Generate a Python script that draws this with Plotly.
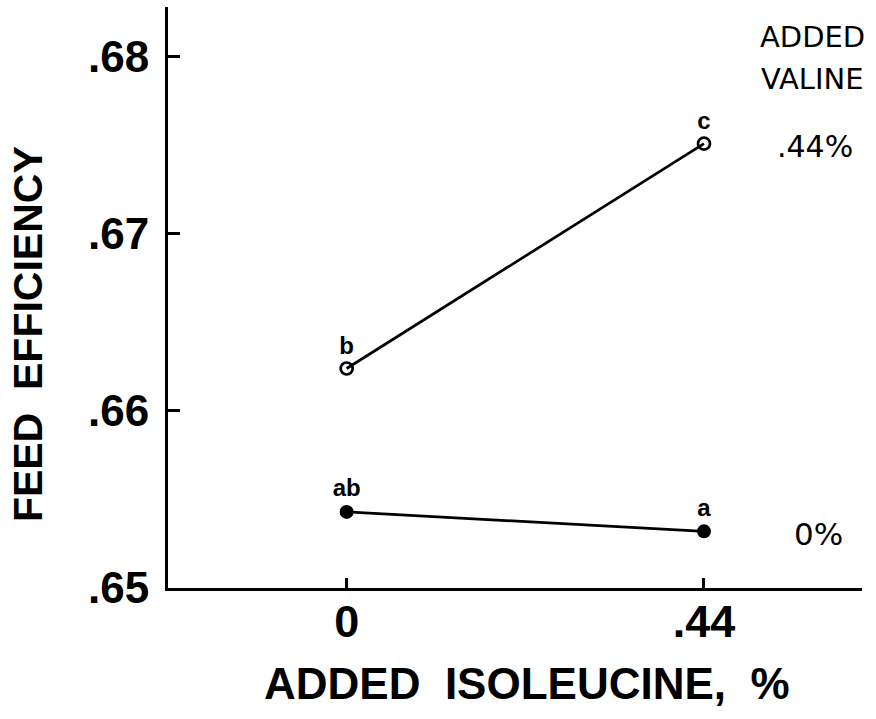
import plotly.graph_objects as go

# Added isoleucine levels (%)
isoleucine = [0.0, 0.44]
isoleucine_ticktext = ["0", ".44"]

# Feed efficiency by added valine level
fe_valine_044 = [0.6624, 0.6751]
fe_valine_0 = [0.6543, 0.6532]

# Significance letters above each mean
letters_valine_044 = ["b", "c"]
letters_valine_0 = ["ab", "a"]

y_ticks = [0.65, 0.66, 0.67, 0.68]
y_ticktext = [".65", ".66", ".67", ".68"]

BOLD = "Liberation Sans"
LABEL = "DejaVu Sans"
INK = "black"

fig = go.Figure()

fig.add_trace(go.Scatter(
    x=isoleucine, y=fe_valine_044, mode="lines+markers+text",
    line=dict(color=INK, width=2.7),
    marker=dict(symbol="circle-open", size=12, color=INK, line=dict(width=2.7)),
    text=letters_valine_044, textposition="top center",
    textfont=dict(family=BOLD, size=24, color=INK, weight="bold"),
    showlegend=False, cliponaxis=False,
))

fig.add_trace(go.Scatter(
    x=isoleucine, y=fe_valine_0, mode="lines+markers+text",
    line=dict(color=INK, width=2.7),
    marker=dict(symbol="circle", size=14, color=INK),
    text=letters_valine_0, textposition="top center",
    textfont=dict(family=BOLD, size=24, color=INK, weight="bold"),
    showlegend=False, cliponaxis=False,
))

# Valine level key at the right
key_font = dict(family=LABEL, size=29, color=INK)
fig.add_annotation(x=0.928, y=0.948, xref="paper", yref="paper", text="ADDED",
                   showarrow=False, xanchor="center", yanchor="middle", font=key_font)
fig.add_annotation(x=0.928, y=0.876, xref="paper", yref="paper", text="VALINE",
                   showarrow=False, xanchor="center", yanchor="middle", font=key_font)
fig.add_annotation(x=0.932, y=fe_valine_044[1], xref="paper", yref="y", text=".44%",
                   showarrow=False, xanchor="center", yanchor="middle", yshift=-3,
                   font=dict(family=LABEL, size=30, color=INK))
fig.add_annotation(x=0.938, y=fe_valine_0[1], xref="paper", yref="y", text="0%",
                   showarrow=False, xanchor="center", yanchor="middle", yshift=-3,
                   font=dict(family=LABEL, size=31, color=INK))

# Axis titles
fig.add_annotation(x=0.517, y=-0.165, xref="paper", yref="paper",
                   text="ADDED  ISOLEUCINE,  %", showarrow=False,
                   xanchor="center", yanchor="middle",
                   font=dict(family=BOLD, size=44, color=INK, weight="bold"))
fig.add_annotation(x=-0.2017, y=0.437, xref="paper", yref="paper",
                   text="FEED  EFFICIENCY", showarrow=False, textangle=-90,
                   xanchor="center", yanchor="middle",
                   font=dict(family=BOLD, size=41, color=INK, weight="bold"))

fig.update_xaxes(
    range=[-0.220, 0.6346],
    tickvals=isoleucine, ticktext=isoleucine_ticktext,
    ticks="inside", ticklen=10, tickwidth=3, tickcolor=INK,
    showline=True, linewidth=3, linecolor=INK,
    showgrid=False, zeroline=False,
    tickfont=dict(family=BOLD, size=45, color=INK, weight="bold"),
    ticklabelstandoff=-8,
)
fig.update_yaxes(
    range=[0.65, 0.68282],
    tickvals=y_ticks, ticktext=y_ticktext,
    ticks="inside", ticklen=12, tickwidth=3, tickcolor=INK,
    showline=True, linewidth=3, linecolor=INK,
    showgrid=False, zeroline=False,
    tickfont=dict(family=BOLD, size=44, color=INK, weight="bold"),
    ticklabelstandoff=7,
)

fig.update_layout(
    width=876, height=719,
    margin=dict(l=168, r=14, t=7, b=131),
    paper_bgcolor="white", plot_bgcolor="white",
)

fig.write_html("out.html")
